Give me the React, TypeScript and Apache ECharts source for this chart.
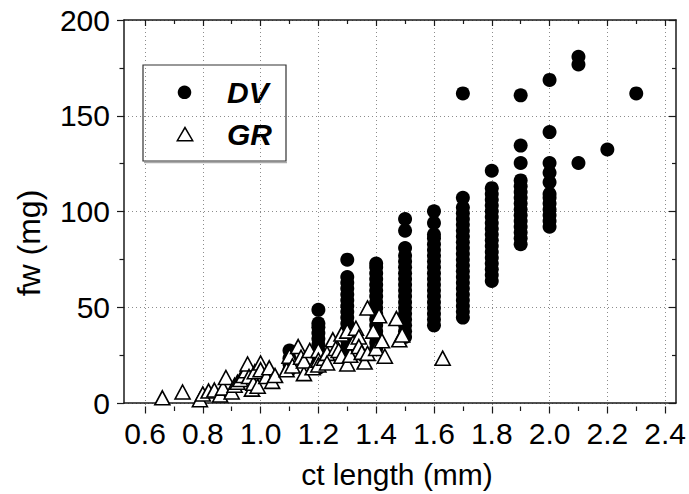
import React, { useEffect, useRef } from "react";
import * as echarts from "echarts";

// DV: filled circles, one column per ct length
const dvLengths = [1.1, 1.2, 1.3, 1.4, 1.5, 1.6, 1.7, 1.8, 1.9, 2.0, 2.1, 2.2, 2.3];
const dvWeights = [
  [19, 22, 25, 29],
  [20, 23, 26, 29, 32, 35, 38, 41, 43, 50],
  [28, 31, 34, 37, 40, 43, 46, 49, 52, 55, 58, 61, 64, 67, 76],
  [30, 33, 36, 39, 42, 45, 48, 51, 54, 57, 60, 63, 66, 69, 72, 74],
  [36, 39, 42, 45, 48, 51, 54, 57, 60, 63, 66, 69, 72, 75, 78, 82, 91, 97],
  [42, 45, 48, 51, 54, 57, 60, 63, 66, 69, 72, 75, 78, 81, 84, 87, 89, 95, 101],
  [46, 49, 52, 55, 58, 61, 64, 67, 70, 73, 76, 79, 82, 85, 88, 91, 94, 97, 100, 103, 108, 162],
  [65, 68, 71, 74, 77, 80, 83, 86, 89, 92, 95, 98, 101, 104, 107, 110, 113, 122],
  [84, 87, 90, 93, 96, 99, 102, 105, 108, 111, 114, 117, 126, 135, 161],
  [93, 96, 99, 102, 105, 108, 110, 116, 121, 126, 142, 169],
  [126, 177, 181],
  [133],
  [162],
];

// GR: open triangles
const grLengths = [
  0.66, 0.73, 0.79, 0.8, 0.82, 0.84, 0.86, 0.87, 0.88, 0.9,
  0.91, 0.92, 0.93, 0.94, 0.95, 0.955, 0.96, 0.97, 0.975, 0.98,
  0.99, 1.0, 1.0, 1.02, 1.03, 1.04, 1.05, 1.09, 1.1, 1.11,
  1.13, 1.14, 1.15, 1.15, 1.17, 1.18, 1.2, 1.2, 1.2, 1.22,
  1.23, 1.23, 1.25, 1.26, 1.27, 1.28, 1.28, 1.3, 1.3, 1.31,
  1.32, 1.33, 1.34, 1.34, 1.35, 1.36, 1.37, 1.37, 1.39, 1.4,
  1.41, 1.42, 1.43, 1.47, 1.48, 1.49, 1.63,
];
const grWeights = [
  4.5, 7.5, 3.5, 6.5, 8, 8.5, 6, 9.5, 15, 7.5,
  11, 12.5, 14, 16, 18.5, 22, 15.5, 9, 12, 18,
  10.5, 22.5, 19, 15.5, 20, 13, 16, 19, 26, 21,
  31, 25.5, 17, 23.5, 29, 20, 29, 24, 21.5, 25,
  27.5, 22.5, 34.5, 30, 29, 37.5, 26, 39, 22, 26.5,
  33, 40.5, 36, 31, 28, 23, 51, 27.5, 39, 30,
  47, 34, 26, 45.5, 34.5, 37, 25,
];

const seriesNames = ["DV", "GR"];
const xTitle = "ct length (mm)";
const yTitle = "fw (mg)";

export default function App() {
  const ref = useRef<HTMLDivElement>(null);
  useEffect(() => {
    const chart = echarts.init(ref.current!, null, { renderer: "svg" });
    const dvData: number[][] = [];
    dvLengths.forEach((x, i) => dvWeights[i].forEach((y) => dvData.push([x, y])));
    const grData = grLengths.map((x, i) => [x, grWeights[i]]);

    const font = "'Liberation Sans', Arial, sans-serif";
    const axisColor = "#1a1a1a";
    const lineStyle = { color: axisColor, width: 1.5 };
    const tickStyle = { color: axisColor, width: 1.2 };
    const gridLine = { show: true, lineStyle: { color: "#8c8c8c", width: 1, type: [1, 3] as any } };
    const labelStyle = { color: "#000", fontSize: 30, fontFamily: font };

    chart.setOption({
      animation: false,
      backgroundColor: "#fff",
      grid: [
        { left: 124, right: 13, top: 20, bottom: 87.5 },
        { left: 145, right: 22, top: 20, bottom: 87.5 },
      ],
      xAxis: [
        {
          gridIndex: 0, type: "value", position: "bottom", min: 0, max: 1,
          axisLine: { show: true, onZero: false, lineStyle },
          axisTick: { show: false }, axisLabel: { show: false }, splitLine: { show: false },
          name: xTitle, nameLocation: "middle", nameGap: 56,
          nameTextStyle: { color: "#000", fontSize: 30, fontFamily: font, padding: [0, 6, 0, 0] },
        },
        {
          gridIndex: 0, type: "value", position: "top", min: 0, max: 1,
          axisLine: { show: true, onZero: false, lineStyle },
          axisTick: { show: false }, axisLabel: { show: false }, splitLine: { show: false },
        },
        {
          gridIndex: 1, type: "value", position: "bottom", min: 0.6, max: 2.4, interval: 0.2,
          axisLine: { show: false, onZero: false },
          axisTick: { show: true, inside: false, length: 7, lineStyle: tickStyle },
          minorTick: { show: true, splitNumber: 2, length: 4.5, lineStyle: tickStyle },
          axisLabel: { ...labelStyle, margin: 12, formatter: (v: number) => v.toFixed(1) },
          splitLine: gridLine,
        },
        {
          gridIndex: 1, type: "value", position: "top", min: 0.6, max: 2.4, interval: 0.2,
          axisLine: { show: false, onZero: false },
          axisTick: { show: true, inside: true, length: 6, lineStyle: tickStyle },
          minorTick: { show: true, splitNumber: 2, length: 4, lineStyle: tickStyle },
          axisLabel: { show: false }, splitLine: { show: false },
        },
      ],
      yAxis: [
        {
          gridIndex: 0, type: "value", position: "left", min: 0, max: 200, interval: 50,
          axisLine: { show: true, onZero: false, lineStyle },
          axisTick: { show: true, inside: false, length: 7, lineStyle: tickStyle },
          minorTick: { show: true, splitNumber: 2, length: 4.5, lineStyle: tickStyle },
          axisLabel: { ...labelStyle, margin: 14 },
          splitLine: gridLine,
        },
        {
          gridIndex: 0, type: "value", position: "right", min: 0, max: 200, interval: 50,
          axisLine: { show: true, onZero: false, lineStyle },
          axisTick: { show: true, inside: true, length: 7, lineStyle: tickStyle },
          minorTick: { show: true, splitNumber: 2, length: 4, lineStyle: tickStyle },
          axisLabel: { show: false }, splitLine: { show: false },
        },
        { gridIndex: 1, type: "value", min: 0, max: 200, show: false },
      ],
      series: [
        {
          name: seriesNames[0], type: "scatter", xAxisIndex: 2, yAxisIndex: 2,
          data: dvData, symbol: "circle", symbolSize: 14,
          itemStyle: { color: "#000", opacity: 1 },
          emphasis: { disabled: true },
        },
        {
          name: seriesNames[1], type: "scatter", xAxisIndex: 2, yAxisIndex: 2,
          data: grData, symbol: "triangle", symbolSize: [15, 14],
          itemStyle: { color: "#fff", borderColor: "#000", borderWidth: 1.6, opacity: 1 },
          emphasis: { disabled: true },
        },
      ],
      graphic: [
        {
          type: "text", x: 28.5, y: 243, rotation: Math.PI / 2,
          style: { text: yTitle, fontSize: 32, fontFamily: font, fill: "#000", align: "center", verticalAlign: "middle" },
        },
        {
          type: "line", shape: { x1: 144, y1: 162.5, x2: 287, y2: 162.5 },
          style: { stroke: "#aaa", lineWidth: 1.5 },
        },
        {
          type: "rect", shape: { x: 143, y: 65, width: 143, height: 96 },
          style: { fill: "#fff", stroke: "#333", lineWidth: 1.2 },
        },
        {
          type: "circle", shape: { cx: 184.5, cy: 92.3, r: 6.8 },
          style: { fill: "#000" },
        },
        {
          type: "polygon", shape: { points: [[185, 127.5], [177.3, 140.7], [192.7, 140.7]] },
          style: { fill: "#fff", stroke: "#000", lineWidth: 1.5 },
        },
        {
          type: "text", x: 227, y: 92.3,
          style: { text: seriesNames[0], fontSize: 30, fontWeight: "bold", fontStyle: "italic", fontFamily: font, fill: "#000", align: "left", verticalAlign: "middle" },
        },
        {
          type: "text", x: 227, y: 134,
          style: { text: seriesNames[1], fontSize: 30, fontWeight: "bold", fontStyle: "italic", fontFamily: font, fill: "#000", align: "left", verticalAlign: "middle" },
        },
      ],
    });
    return () => chart.dispose();
  }, []);
  return <div ref={ref} style={{ position: "fixed", left: 0, top: 0, width: 689, height: 494 }} />;
}
